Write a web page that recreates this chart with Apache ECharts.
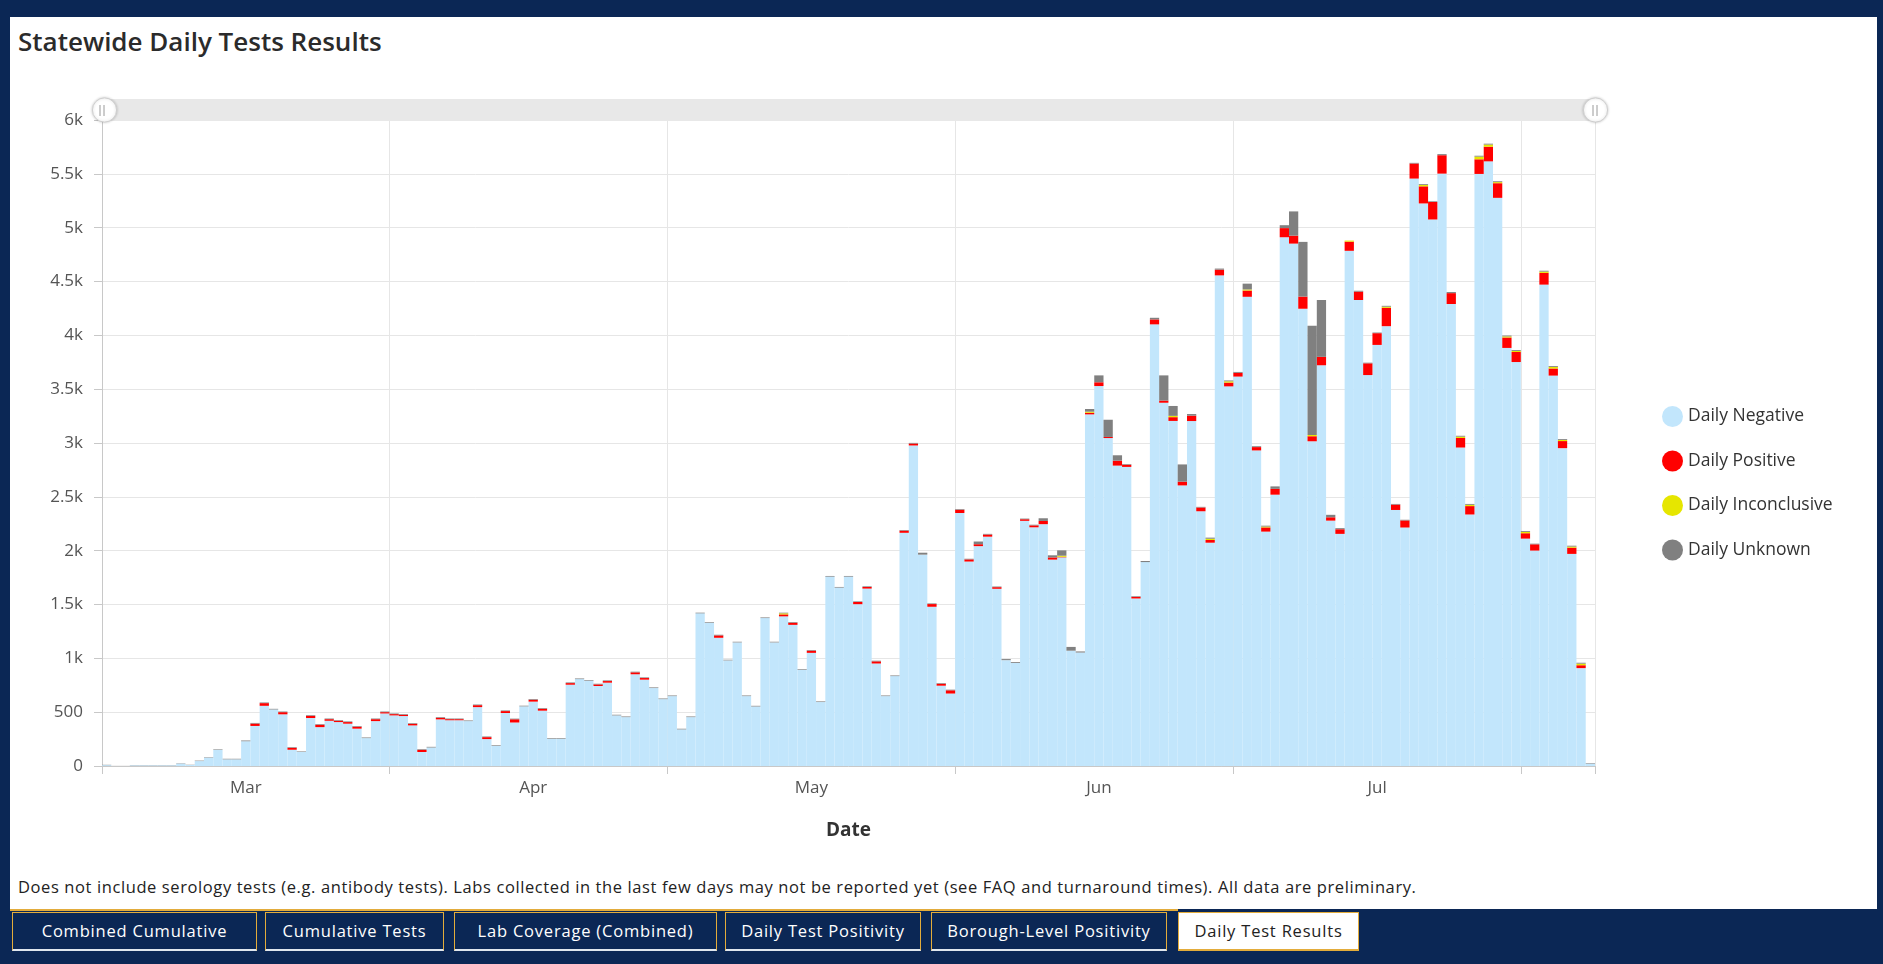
<!DOCTYPE html>
<html lang="en">
<head>
    <meta charset="UTF-8">
    <title>Statewide Daily Tests Results</title>
    <script src="https://cdn.jsdelivr.net/npm/echarts@6/dist/echarts.min.js"></script>
    <style>
        * { margin: 0; padding: 0; box-sizing: border-box; }
        body {
            width: 1883px;
            height: 964px;
            background: #0b2755;
            font-family: "Open Sans", Lato, sans-serif;
            position: relative;
            overflow: hidden;
        }
        .panel {
            position: absolute;
            left: 10px;
            top: 17px;
            width: 1867px;
            height: 892px;
            background: #fff;
        }
        .title {
            position: absolute;
            left: 18px;
            top: 23px;
            font-size: 26px;
            font-weight: 600;
            color: #2b2b2b;
        }
        .note {
            position: absolute;
            left: 18px;
            top: 875px;
            font-size: 16.5px;
            letter-spacing: 0.6px;
            color: #222;
        }
        .goldline {
            position: absolute;
            left: 10px;
            top: 909px;
            width: 1168px;
            height: 2px;
            background: #e3ac3b;
        }
        .tab {
            position: absolute;
            top: 912px;
            height: 39px;
            border: 1px solid #e3ac3b;
            border-bottom: 2px solid #dfe6ee;
            color: #fff;
            font-size: 16.5px;
            letter-spacing: 0.8px;
            line-height: 36px;
            text-align: center;
            background: #0b2755;
        }
        .tab.active {
            background: #fff;
            color: #222;
            border-color: #e3ac3b;
            border-bottom: 2px solid #e3ac3b;
        }
        #chart {
            position: absolute;
            left: 0;
            top: 0;
            width: 1883px;
            height: 964px;
        }
    </style>
</head>
<body>
    <div class="panel"></div>
    <div class="title">Statewide Daily Tests Results</div>
    <div class="note">Does not include serology tests (e.g. antibody tests). Labs collected in the last few days may not be reported yet (see FAQ and turnaround times). All data are preliminary.</div>
    <div class="goldline"></div>
    <div class="tab" style="left:12px;width:245px;">Combined Cumulative</div>
    <div class="tab" style="left:265px;width:179px;">Cumulative Tests</div>
    <div class="tab" style="left:454px;width:263px;">Lab Coverage (Combined)</div>
    <div class="tab" style="left:725px;width:196px;">Daily Test Positivity</div>
    <div class="tab" style="left:931px;width:236px;">Borough-Level Positivity</div>
    <div class="tab active" style="left:1178px;width:181px;">Daily Test Results</div>
    <div id="chart"></div>

    <script>
        // one bar per day, 2020-03-01 .. 2020-08-08
        const startDate = '2020-03-01';
        const dayCount = 161;
        const monthNames = { '03': 'Mar', '04': 'Apr', '05': 'May', '06': 'Jun', '07': 'Jul', '08': 'Aug' };
        const yTickLabels = ['0', '500', '1k', '1.5k', '2k', '2.5k', '3k', '3.5k', '4k', '4.5k', '5k', '5.5k', '6k'];
        const seriesNames = ['Daily Negative', 'Daily Positive', 'Daily Inconclusive', 'Daily Unknown'];

        const negative = [
            8, 0, 0, 6, 6, 6, 6, 6, 22, 10,
            46, 78, 150, 62, 62, 230, 372, 559, 525, 480,
            151, 130, 446, 361, 420, 408, 393, 347, 259, 417,
            488, 470, 464, 377, 130, 172, 433, 425, 425, 417,
            547, 250, 187, 492, 404, 554, 598, 514, 253, 253,
            755, 807, 792, 743, 774, 470, 454, 852, 802, 724,
            621, 649, 340, 454, 1418, 1331, 1191, 981, 1148, 649,
            553, 1374, 1148, 1390, 1311, 894, 1051, 594, 1759, 1657,
            1759, 1503, 1648, 952, 649, 835, 2166, 2977, 1963, 1479,
            746, 673, 2350, 1899, 2042, 2130, 1646, 983, 957, 2277,
            2217, 2246, 1917, 1938, 1071, 1054, 3266, 3529, 3046, 2790,
            2778, 1556, 1894, 4102, 3374, 3205, 2606, 3204, 2366, 2074,
            4557, 3526, 3617, 4358, 2931, 2177, 2520, 4911, 4852, 4247,
            3016, 3722, 2279, 2156, 4785, 4328, 3631, 3911, 4085, 2378,
            2215, 5456, 5225, 5076, 5502, 4291, 2958, 2336, 5499, 5616,
            5277, 3883, 3752, 2112, 2001, 4471, 3626, 2952, 1970, 909, 22
        ];
        const positive = [
            0, 0, 0, 0, 0, 0, 0, 0, 0, 0,
            0, 0, 0, 0, 0, 0, 22, 25, 0, 20,
            18, 0, 20, 22, 15, 12, 15, 18, 0, 18,
            12, 12, 12, 15, 20, 0, 15, 10, 10, 0,
            18, 18, 0, 18, 30, 0, 18, 18, 0, 0,
            15, 0, 0, 15, 15, 0, 0, 18, 15, 0,
            0, 0, 0, 0, 0, 0, 22, 0, 0, 0,
            0, 0, 0, 18, 20, 0, 20, 0, 0, 0,
            0, 20, 15, 20, 0, 0, 20, 18, 0, 25,
            18, 30, 30, 20, 18, 20, 15, 0, 0, 15,
            18, 30, 20, 5, 0, 0, 15, 35, 10, 46,
            20, 15, 0, 46, 20, 35, 35, 50, 35, 25,
            53, 35, 35, 58, 31, 39, 54, 85, 74, 113,
            47, 78, 31, 43, 85, 78, 109, 109, 171, 50,
            66, 140, 159, 163, 171, 101, 89, 78, 136, 136,
            136, 97, 93, 50, 58, 109, 66, 66, 58, 27, 0
        ];
        const inconclusive = [
            0, 0, 0, 0, 0, 0, 0, 0, 0, 0,
            0, 0, 0, 0, 0, 0, 0, 0, 0, 0,
            0, 0, 0, 0, 0, 0, 0, 0, 0, 0,
            0, 0, 0, 0, 0, 0, 0, 0, 0, 0,
            0, 0, 0, 0, 0, 0, 0, 0, 0, 0,
            0, 0, 0, 0, 0, 0, 0, 0, 0, 0,
            0, 0, 0, 0, 0, 0, 0, 0, 0, 0,
            0, 0, 0, 10, 0, 0, 0, 0, 0, 0,
            0, 0, 0, 0, 0, 0, 0, 0, 0, 0,
            0, 0, 0, 0, 0, 0, 0, 0, 0, 0,
            0, 0, 0, 10, 0, 0, 10, 0, 0, 0,
            0, 0, 0, 0, 0, 12, 0, 0, 0, 12,
            0, 12, 0, 10, 0, 8, 0, 0, 0, 0,
            12, 0, 0, 0, 10, 0, 0, 0, 10, 0,
            0, 0, 12, 0, 0, 0, 12, 12, 25, 20,
            10, 10, 10, 12, 0, 12, 15, 10, 10, 15, 0
        ];
        const unknown = [
            3, 1, 1, 2, 2, 2, 2, 2, 3, 2,
            4, 4, 5, 5, 5, 7, 6, 6, 6, 6,
            6, 5, 6, 6, 6, 6, 6, 6, 6, 6,
            6, 6, 6, 6, 6, 6, 6, 6, 6, 6,
            6, 6, 6, 6, 6, 6, 6, 6, 6, 6,
            6, 6, 6, 6, 6, 6, 6, 6, 6, 6,
            6, 6, 6, 6, 6, 6, 6, 6, 6, 6,
            6, 6, 6, 6, 6, 6, 6, 6, 6, 6,
            6, 6, 6, 6, 6, 6, 6, 6, 18, 6,
            6, 6, 6, 6, 25, 6, 6, 10, 8, 6,
            6, 25, 20, 50, 35, 10, 25, 64, 160, 50,
            6, 6, 10, 15, 234, 92, 160, 15, 6, 10,
            10, 8, 8, 54, 8, 8, 23, 27, 225, 508,
            1013, 528, 23, 10, 0, 8, 6, 6, 8, 6,
            6, 6, 8, 6, 10, 10, 8, 8, 8, 8,
            8, 8, 8, 8, 6, 8, 8, 8, 8, 8, 5
        ];

        const colors = ['#c2e6fc', '#ff0000', '#e6e600', '#808080'];
        const fontFamily = '"Open Sans", Lato, sans-serif';

        function buildDates() {
            const out = [];
            const d = new Date(startDate + 'T12:00:00Z');
            for (let i = 0; i < dayCount; i++) {
                out.push(d.toISOString().slice(0, 10));
                d.setUTCDate(d.getUTCDate() + 1);
            }
            return out;
        }
        const dates = buildDates();

        const isMonthStart = (i, v) => v.slice(8) === '01';
        const isMidMonth = (i, v) => v.slice(8) === '16';

        const chart = echarts.init(document.getElementById('chart'), null, { renderer: 'canvas' });

        // grip marks on the zoom handles
        const gripStyle = { stroke: '#9a9a9a', lineWidth: 1 };
        const grips = [];
        [102, 1595].forEach(cx => {
            [-2, 2].forEach(dx => {
                grips.push({
                    type: 'line', z: 100, silent: true,
                    shape: { x1: cx + dx, y1: 105, x2: cx + dx, y2: 116 },
                    style: gripStyle
                });
            });
        });

        const seriesData = [negative, positive, inconclusive, unknown];
        chart.setOption({
            backgroundColor: 'transparent',
            animation: false,
            textStyle: { fontFamily: fontFamily },
            color: colors,
            grid: { left: 102, right: 288, top: 120, bottom: 198 },
            graphic: grips,
            legend: {
                orient: 'vertical',
                left: 1657,
                top: 401,
                icon: 'circle',
                itemWidth: 21,
                itemHeight: 21,
                itemGap: 23.5,
                data: seriesNames,
                textStyle: { fontSize: 17.5, color: '#333', fontFamily: fontFamily }
            },
            dataZoom: [{
                type: 'slider',
                xAxisIndex: 0,
                start: 0,
                end: 100,
                left: 102,
                right: 288,
                top: 99,
                height: 22,
                showDataShadow: false,
                showDetail: false,
                brushSelect: false,
                moveHandleSize: 0,
                backgroundColor: '#e8e8e8',
                fillerColor: '#e8e8e8',
                borderColor: 'transparent',
                handleIcon: 'circle',
                handleSize: '110%',
                handleStyle: {
                    color: '#fff',
                    borderColor: '#cfcfcf',
                    borderWidth: 1,
                    shadowBlur: 3,
                    shadowColor: 'rgba(0,0,0,0.2)'
                }
            }],
            xAxis: {
                type: 'category',
                data: dates,
                boundaryGap: true,
                name: 'Date',
                nameLocation: 'middle',
                nameGap: 55,
                nameTextStyle: { fontSize: 19, fontWeight: 'bold', color: '#333', fontFamily: fontFamily },
                axisLine: { show: true, lineStyle: { color: '#c8c8c8' } },
                axisTick: { show: true, alignWithLabel: false, interval: isMonthStart, length: 8, lineStyle: { color: '#c8c8c8' } },
                splitLine: { show: true, interval: isMonthStart, lineStyle: { color: '#e6e6e6' } },
                axisLabel: {
                    interval: isMidMonth,
                    formatter: v => monthNames[v.slice(5, 7)],
                    color: '#555',
                    fontSize: 17,
                    fontFamily: fontFamily,
                    margin: 14
                }
            },
            yAxis: {
                type: 'value',
                min: 0,
                max: 6000,
                interval: 500,
                axisLine: { show: true, lineStyle: { color: '#c8c8c8' } },
                axisTick: { show: true, length: 8, lineStyle: { color: '#c8c8c8' } },
                splitLine: { show: true, lineStyle: { color: '#e6e6e6' } },
                axisLabel: {
                    color: '#555',
                    fontSize: 17,
                    fontFamily: fontFamily,
                    margin: 19,
                    formatter: v => yTickLabels[Math.round(v / 500)]
                }
            },
            series: seriesNames.map((name, k) => ({
                name: name,
                type: 'bar',
                stack: 'tests',
                barCategoryGap: '0%',
                data: seriesData[k],
                itemStyle: { color: colors[k] }
            }))
        });
    </script>
</body>
</html>
